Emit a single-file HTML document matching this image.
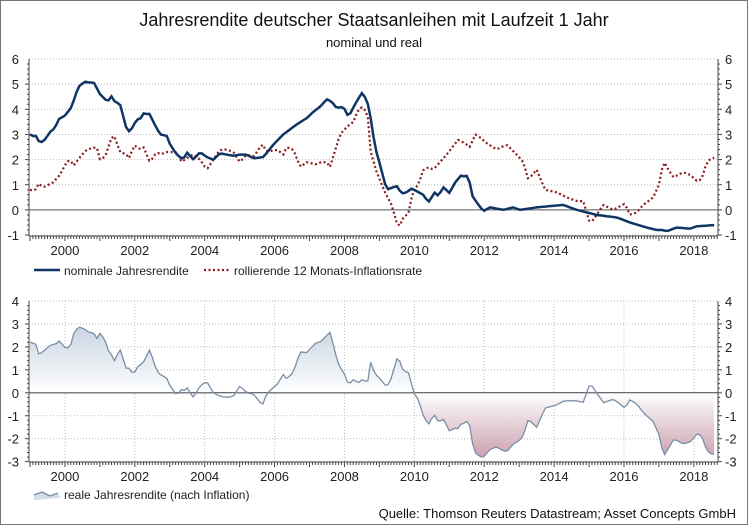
<!DOCTYPE html>
<html><head><meta charset="utf-8">
<style>
body{margin:0;background:#fff;}
#c{position:relative;width:748px;height:525px;box-sizing:border-box;border:1px solid #777;background:#fff;font-family:"Liberation Sans",sans-serif;}
svg text{font-family:"Liberation Sans",sans-serif;}
</style></head><body>
<div id="c"><svg id="s" width="746" height="523" viewBox="1 1 746 523" xmlns="http://www.w3.org/2000/svg">
<defs>
<linearGradient id="gp" x1="0" y1="301" x2="0" y2="393" gradientUnits="userSpaceOnUse"><stop offset="0" stop-color="#b4c4d6"/><stop offset="1" stop-color="#ffffff"/></linearGradient>
<linearGradient id="gn" x1="0" y1="393" x2="0" y2="462" gradientUnits="userSpaceOnUse"><stop offset="0" stop-color="#ffffff"/><stop offset="1" stop-color="#c89aa8"/></linearGradient>
<clipPath id="cp"><rect x="29" y="392" width="690" height="80"/></clipPath>
<clipPath id="cn"><rect x="29" y="250" width="690" height="142"/></clipPath>
</defs>
<text x="374" y="26" font-size="18" text-anchor="middle" fill="#111">Jahresrendite deutscher Staatsanleihen mit Laufzeit 1 Jahr</text>
<text x="374" y="47" font-size="13" text-anchor="middle" fill="#111">nominal und real</text>
<g id="g"></g>
<text x="736" y="518" font-size="13" text-anchor="end" fill="#111">Quelle: Thomson Reuters Datastream; Asset Concepts GmbH</text>
</svg></div>
<script>
var NS="http://www.w3.org/2000/svg",G=document.getElementById('g');
function el(t,a,txt){var e=document.createElementNS(NS,t);for(var k in a)e.setAttribute(k,a[k]);if(txt!=null)e.textContent=txt;G.appendChild(e);return e;}
var X0=30,PY=34.94,L=29,R=718;
function X(y){return X0+(y-1999)*PY;}
function z1(a){return a.map(function(p){return[1999+(p[0]-90)/104.8,p[1]];});}
function z2(a){return a.map(function(p){return[1999+(340+p[0]/3)/34.94,p[1]];});}
var nom=z1([[90,3.0],[95,2.9],[105,3.0],[120,2.65],[135,2.8],[150,3.1],[165,3.25],[175,3.6],[195,3.75],[215,4.1],[235,4.9],[255,5.1],[270,5.05],[280,5.1],[300,4.6],[315,4.4],[325,4.3],[330,4.65],[340,4.35],[360,4.2],[380,3.2],[390,3.1],[410,3.6],[420,3.6],[430,3.85],[435,3.75],[445,3.9],[460,3.5],[480,3.0],[500,2.95],[510,2.6],[530,2.2],[550,2.0],[560,2.3],[580,2.0],[600,2.3],[620,2.1],[640,2.0],[660,2.25],[700,2.15],[720,2.2],[740,2.2],[760,2.05],[790,2.1],[820,2.6],[850,3.0],[870,3.2],[890,3.4],[920,3.65],[940,3.9],[960,4.1],[980,4.4],[995,4.3],[1010,4.05],[1030,4.1],[1045,3.7],[1065,4.2],[1085,4.65],[1100,4.4],[1110,3.8],[1125,2.5]]).concat(z2([[15,2.5],[30,1.8],[50,0.8],[80,0.95],[95,0.65],[110,0.7],[125,0.85],[160,0.6],[175,0.3],[195,0.7],[205,0.55],[220,0.9],[240,0.65],[250,1.0],[275,1.4],[285,1.3],[295,1.4],[305,0.6],[320,0.3],[340,-0.05],[360,0.1],[400,0.0],[430,0.1],[450,0.0],[500,0.1],[580,0.2],[620,0.0],[680,-0.2],[740,-0.3],[780,-0.5],[830,-0.7],[860,-0.8],[880,-0.8],[890,-0.85],[920,-0.7],[960,-0.75],[980,-0.65],[1040,-0.6]]));
var inf=z1([[90,0.8],[105,0.75],[115,1.05],[130,0.9],[160,1.1],[180,1.4],[200,1.9],[210,2.0],[220,1.75],[240,2.1],[260,2.4],[290,2.5],[300,2.0],[315,2.1],[330,2.7],[340,3.05],[360,2.3],[380,2.2],[390,2.0],[400,2.6],[420,2.4],[430,2.5],[450,1.9],[470,2.3],[480,2.2],[500,2.3],[530,2.3],[545,1.9],[565,2.1],[580,2.2],[600,2.0],[620,1.6],[640,2.0],[660,2.4],[680,2.4],[700,2.3],[720,1.9],[740,2.2],[760,2.1],[780,2.5],[790,2.6],[800,2.3],[830,2.4],[850,2.2],[860,2.5],[880,2.4],[900,1.7],[920,1.9],[950,1.8],[960,1.9],[980,1.9],[990,1.7],[1020,3.0],[1040,3.3],[1060,3.5],[1075,4.0],[1090,4.1],[1110,3.5]]).concat(z2([[0,2.4],[20,1.5],[45,0.7],[65,0.2],[85,-0.75],[100,-0.3],[115,-0.15],[130,0.8],[145,1.0],[160,1.6],[175,1.7],[190,1.6],[210,1.9],[230,2.2],[265,2.8],[290,2.6],[300,2.5],[315,3.0],[330,2.9],[345,2.7],[380,2.4],[410,2.6],[440,2.2],[460,1.9],[475,1.2],[500,1.6],[525,0.8],[560,0.7],[590,0.5],[620,0.35],[640,0.35],[660,-0.55],[680,-0.2],[700,0.2],[730,0.0],[765,0.25],[780,-0.2],[800,-0.1],[820,0.2],[850,0.5],[870,1.1],[880,2.0],[890,1.7],[910,1.3],[940,1.5],[960,1.4],[985,1.1],[1000,1.4],[1010,1.9],[1030,2.1],[1040,2.0]]));
function interp(a,t){if(t<=a[0][0])return a[0][1];for(var i=1;i<a.length;i++)if(a[i][0]>=t){var p=a[i-1],q=a[i];return p[1]+(q[1]-p[1])*(t-p[0])/(q[0]-p[0]);}return a[a.length-1][1];}
var T0=59,TU=25.15;function YT(v){return T0+(6-v)*TU;}
var B0=301,BU=22.95;function YB(v){return B0+(4-v)*BU;}
function axes(Y,lo,hi,top,bot,vgrid){
 for(var v=lo;v<=hi;v++){ if(v!=0)el('line',{x1:L,x2:R,y1:Y(v),y2:Y(v),stroke:'#bbb','stroke-dasharray':'1,2'});
  el('text',{x:19,y:Y(v)+5,'font-size':13,'text-anchor':'end',fill:'#222'},v);
  el('text',{x:725,y:Y(v)+5,'font-size':13,fill:'#222'},v);
  if(v<hi)for(var k=0;k<5;k++){var yy=Y(v)-k*(Y(lo)-Y(hi))/(hi-lo)/5;el('line',{x1:L-(k?2:4),x2:L,y1:yy,y2:yy,stroke:'#444'});el('line',{x1:R,x2:R+(k?2:4),y1:yy,y2:yy,stroke:'#444'});}
 }
 if(vgrid)for(var yr=2000;yr<=2018;yr+=2)el('line',{x1:X(yr),x2:X(yr),y1:top,y2:bot,stroke:'#bbb','stroke-dasharray':'1,2'});
 el('line',{x1:L,x2:L,y1:top,y2:bot,stroke:'#444'});el('line',{x1:R,x2:R,y1:top,y2:bot,stroke:'#444'});
 el('line',{x1:L,x2:R,y1:bot,y2:bot,stroke:'#444'});
 el('line',{x1:L,x2:R,y1:Y(0),y2:Y(0),stroke:'#555'});
 for(var m=0;m<=236;m++){var x=X(1999+m/12);if(x>R)break;var big=(m%12==0);el('line',{x1:x,x2:x,y1:bot,y2:bot+(big?5:3),stroke:'#444'});}
 for(var yr=2000;yr<=2018;yr+=2)el('text',{x:X(yr),y:bot+19,'font-size':13,'text-anchor':'middle',fill:'#222'},yr);
}
axes(YT,-1,6,59,236,false);
axes(YB,-3,4,301,462,true);
function path(Y,f){var d='';for(var t=1999;t<=2018.62;t+=1/12){d+=(d?'L':'M')+X(t).toFixed(1)+','+Y(f(t)).toFixed(1);}return d;}
el('path',{d:path(YT,function(t){return interp(inf,t);}),fill:'none',stroke:'#8b1a1a','stroke-width':2.2,'stroke-dasharray':'2,2.5'});
el('path',{d:path(YT,function(t){return interp(nom,t);}),fill:'none',stroke:'#0f3564','stroke-width':2.5});
var real=function(t){return interp(nom,t)-interp(inf,t);};
var rp=path(YB,real);var end=X(2018.58).toFixed(1);
el('path',{d:rp+'L'+end+','+YB(0)+'L'+X(1999)+','+YB(0)+'Z',fill:'url(#gp)','clip-path':'url(#cn)'});
el('path',{d:rp+'L'+end+','+YB(0)+'L'+X(1999)+','+YB(0)+'Z',fill:'url(#gn)','clip-path':'url(#cp)'});
el('line',{x1:L,x2:R,y1:YB(0),y2:YB(0),stroke:'#555'});
el('path',{d:rp,fill:'none',stroke:'#7a8ea8','stroke-width':1.3});
el('line',{x1:34,x2:60,y1:270,y2:270,stroke:'#0f3564','stroke-width':2.5});
el('text',{x:64,y:275,'font-size':12,fill:'#222'},'nominale Jahresrendite');
el('line',{x1:204,x2:230,y1:270,y2:270,stroke:'#8b1a1a','stroke-width':2.2,'stroke-dasharray':'2,2.5'});
el('text',{x:234,y:275,'font-size':12,fill:'#222'},'rollierende 12 Monats-Inflationsrate');
el('path',{d:'M34,495 L42,492 L50,496 L58,493 L60,498 L34,500Z',fill:'#d4dde8'});
el('path',{d:'M34,495 L42,492 L50,496 L58,493',fill:'none',stroke:'#7a8ea8','stroke-width':1.3});
el('text',{x:64,y:499,'font-size':12,fill:'#222'},'reale Jahresrendite (nach Inflation)');
</script>
</body></html>
